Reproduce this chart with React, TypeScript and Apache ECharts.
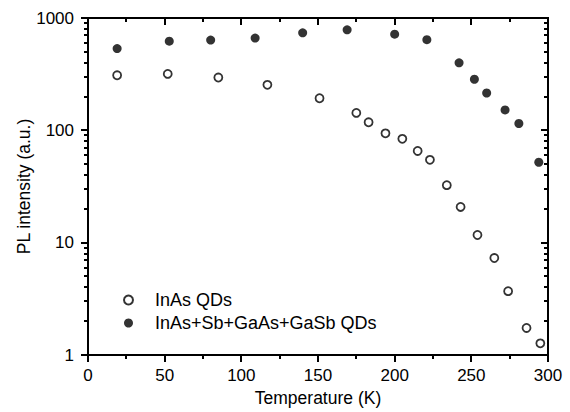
import React, { useEffect, useRef } from "react";
import * as echarts from "echarts";

const inasTemp = [19, 52, 85, 117, 151, 175, 183, 194, 205, 215, 223, 234, 243, 254, 265, 274, 286, 295];
const inasPL = [309, 318, 295, 254, 193, 143, 118, 94, 84, 65.5, 54.6, 32.5, 20.8, 11.7, 7.3, 3.7, 1.74, 1.27];

const sbTemp = [19, 53, 80, 109, 140, 169, 200, 221, 242, 252, 260, 272, 281, 294];
const sbPL = [534, 622, 636, 663, 738, 785, 718, 641, 399, 285, 215, 152, 115, 52];

const seriesNames = ["InAs QDs", "InAs+Sb+GaAs+GaSb QDs"];
const xTitle = "Temperature (K)";
const yTitle = "PL intensity (a.u.)";

const xMajorTicks = [0, 50, 100, 150, 200, 250, 300];
const xMinorTicks = [25, 75, 125, 175, 225, 275];
const yMajorTicks = [1, 10, 100, 1000];
const yMinorTicks = [2, 3, 4, 5, 6, 7, 8, 9, 20, 30, 40, 50, 60, 70, 80, 90, 200, 300, 400, 500, 600, 700, 800, 900];

const X_MIN = 0;
const X_MAX = 300;
const Y_MIN = 1;
const Y_MAX = 1000;

const FONT = "'Liberation Sans', Arial, sans-serif";
const MAJOR_LEN = 7;
const MINOR_LEN = 4;
const TICK_W = 2;
const FRAME_W = 2;

export default function App() {
  const ref = useRef<HTMLDivElement>(null);
  useEffect(() => {
    if (!ref.current) return;
    const chart = echarts.init(ref.current, undefined, { renderer: "svg" });

    chart.setOption({
      animation: false,
      grid: { left: 88, right: 22, top: 18, bottom: 52 },
      legend: {
        orient: "vertical",
        left: 123,
        top: 290,
        padding: 0,
        itemGap: 3,
        itemWidth: 9,
        itemHeight: 9,
        textStyle: {
          fontFamily: FONT,
          fontSize: 18,
          color: "#000",
          lineHeight: 20,
          padding: [0, 0, 0, 17],
        },
        data: [
          { name: seriesNames[0], icon: "circle", itemStyle: { color: "#fff", borderColor: "#000", borderWidth: 2 } },
          { name: seriesNames[1], icon: "circle", itemStyle: { color: "#000", borderColor: "#000", borderWidth: 0 } },
        ],
      },
      xAxis: [
        {
          type: "value", min: X_MIN, max: X_MAX, interval: 50,
          name: xTitle,
          nameLocation: "middle",
          nameGap: 34,
          nameMoveOverlap: false,
          nameTextStyle: { fontFamily: FONT, fontSize: 17.5, color: "#000" },
          axisLine: { show: false },
          axisTick: { show: false },
          axisLabel: { fontFamily: FONT, fontSize: 17, color: "#000", margin: 12 },
          splitLine: { show: false },
        },
      ],
      yAxis: [
        {
          type: "log", min: Y_MIN, max: Y_MAX,
          name: yTitle,
          nameLocation: "middle",
          nameGap: 55,
          nameMoveOverlap: false,
          nameTextStyle: { fontFamily: FONT, fontSize: 17.5, color: "#000" },
          axisLine: { show: false },
          axisTick: { show: false },
          axisLabel: {
            fontFamily: FONT, fontSize: 17, color: "#000", margin: 14,
            formatter: (v: number) => String(Math.round(v)),
          },
          splitLine: { show: false },
        },
      ],
      series: [
        {
          name: seriesNames[0],
          type: "scatter",
          symbol: "circle",
          symbolSize: 8,
          itemStyle: { color: "#fff", borderColor: "#000", borderWidth: 1.8 },
          data: inasTemp.map((t, i) => [t, inasPL[i]]),
          z: 5,
        },
        {
          name: seriesNames[1],
          type: "scatter",
          symbol: "circle",
          symbolSize: 9,
          itemStyle: { color: "#000", borderWidth: 0 },
          data: sbTemp.map((t, i) => [t, sbPL[i]]),
          z: 5,
        },
      ],
    });

    // Frame and ticks placed through the chart's own scales.
    const px = (x: number, y: number) => {
      const p = chart.convertToPixel({ gridIndex: 0 }, [x, y]) as number[];
      return [Math.round(p[0]), Math.round(p[1])];
    };
    const line = (x1: number, y1: number, x2: number, y2: number, w: number) => ({
      type: "line",
      silent: true,
      z: 100,
      shape: { x1, y1, x2, y2 },
      style: { stroke: "#000", lineWidth: w },
    });
    const els: any[] = [];
    const bl = px(X_MIN, Y_MIN);
    const tr = px(X_MAX, Y_MAX);
    els.push(line(bl[0] - 1, tr[1], tr[0] + 1, tr[1], FRAME_W)); // top
    els.push(line(tr[0], tr[1], tr[0], bl[1], FRAME_W)); // right
    els.push(line(bl[0] - 1, bl[1], tr[0] + 1, bl[1], FRAME_W)); // bottom
    els.push(line(bl[0], tr[1], bl[0], bl[1], FRAME_W)); // left
    const addX = (vals: number[], len: number) => {
      vals.forEach((v) => {
        const b = px(v, Y_MIN);
        const t = px(v, Y_MAX);
        els.push(line(b[0], b[1], b[0], b[1] + len, TICK_W));
        els.push(line(t[0], t[1], t[0], t[1] + len, TICK_W));
      });
    };
    const addY = (vals: number[], len: number) => {
      vals.forEach((v) => {
        const l = px(X_MIN, v);
        const r = px(X_MAX, v);
        els.push(line(l[0] - len, l[1], l[0], l[1], TICK_W));
        els.push(line(r[0] - len, r[1], r[0], r[1], TICK_W));
      });
    };
    addX(xMajorTicks, MAJOR_LEN);
    addX(xMinorTicks, MINOR_LEN);
    addY(yMajorTicks, MAJOR_LEN);
    addY(yMinorTicks, MINOR_LEN);
    chart.setOption({ graphic: { elements: els } });

    return () => chart.dispose();
  }, []);
  return <div ref={ref} style={{ position: "absolute", left: 0, top: 0, width: 570, height: 412, background: "#fff" }} />;
}
